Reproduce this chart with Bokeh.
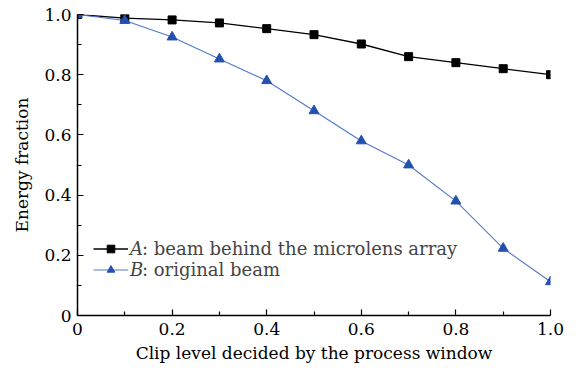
from bokeh.plotting import figure
from bokeh.models import Legend, LegendItem, Range1d, FixedTicker
from bokeh.embed import file_html
from bokeh.resources import INLINE

clip = [0.0, 0.1, 0.2, 0.3, 0.4, 0.5, 0.6, 0.7, 0.8, 0.9, 1.0]
energy_a = [1.0, 0.988, 0.982, 0.972, 0.953, 0.933, 0.902, 0.86, 0.84, 0.82, 0.80]
energy_b = [1.0, 0.98, 0.925, 0.852, 0.78, 0.68, 0.58, 0.50, 0.38, 0.223, 0.112]
ticks = [0.0, 0.2, 0.4, 0.6, 0.8, 1.0]
minor = [0.1, 0.3, 0.5, 0.7, 0.9]
series_names = ["A", "B"]
series_desc = [": beam behind the microlens array", ": original beam"]

FONT = "DejaVu Serif"

p = figure(width=570, height=365, output_backend="svg", toolbar_location=None,
           x_range=Range1d(0, 1.0), y_range=Range1d(0, 1.0),
           min_border_left=77, min_border_right=20, min_border_top=14, min_border_bottom=46)
p.outline_line_color = None
p.grid.visible = False
p.background_fill_color = "white"

la = p.line(clip, energy_a, line_color="black", line_width=1.3)
ma = p.scatter(clip, energy_a, marker="square", size=8, color="black")
lb = p.line(clip, energy_b, line_color="#5079cc", line_width=1.1)
mb = p.scatter(clip, energy_b, marker="triangle", size=10, color="#2450b0")

# invisible renderers used only to carry the non-italic part of legend texts
d1 = p.line([], [], line_alpha=0)
d2 = p.line([], [], line_alpha=0)

for ax in (p.xaxis[0], p.yaxis[0]):
    ax.ticker = FixedTicker(ticks=ticks, minor_ticks=minor)
    ax.major_label_overrides = {0: "0", 0.2: "0.2", 0.4: "0.4", 0.6: "0.6", 0.8: "0.8", 1.0: "1.0"}
    ax.axis_line_width = 1.5
    ax.major_tick_in = 6
    ax.major_tick_out = 0
    ax.minor_tick_in = 4
    ax.minor_tick_out = 0
    ax.major_tick_line_width = 1.2
    ax.minor_tick_line_width = 1.2
    ax.major_label_text_font = FONT
    ax.major_label_text_font_size = "17px"
    ax.major_label_text_color = "black"
    ax.axis_label_text_font = FONT
    ax.axis_label_text_font_size = "17px"
    ax.axis_label_text_font_style = "normal"
    ax.axis_label_text_color = "black"

p.xaxis.axis_label = "Clip level decided by the process window"
p.yaxis.axis_label = "Energy fraction"
p.xaxis.major_label_standoff = 7
p.yaxis.major_label_standoff = 6
p.xaxis.axis_label_standoff = 5
p.yaxis.axis_label_standoff = 9

common = dict(padding=0, margin=0, spacing=0, border_line_color=None,
              background_fill_alpha=0, glyph_height=19, label_height=19,
              label_text_font=FONT, label_text_font_size="18px")

legend1 = Legend(items=[LegendItem(label=series_names[0], renderers=[la, ma]),
                        LegendItem(label=series_names[1], renderers=[lb, mb])],
                 location=(16, 35), glyph_width=35, label_standoff=2,
                 label_text_font_style="italic", **common)
legend2 = Legend(items=[LegendItem(label=series_desc[0], renderers=[d1]),
                        LegendItem(label=series_desc[1], renderers=[d2])],
                 location=(65, 35), glyph_width=0, label_standoff=0, **common)
p.add_layout(legend1, "center")
p.add_layout(legend2, "center")

open("out.html", "w").write(file_html(p, INLINE))
